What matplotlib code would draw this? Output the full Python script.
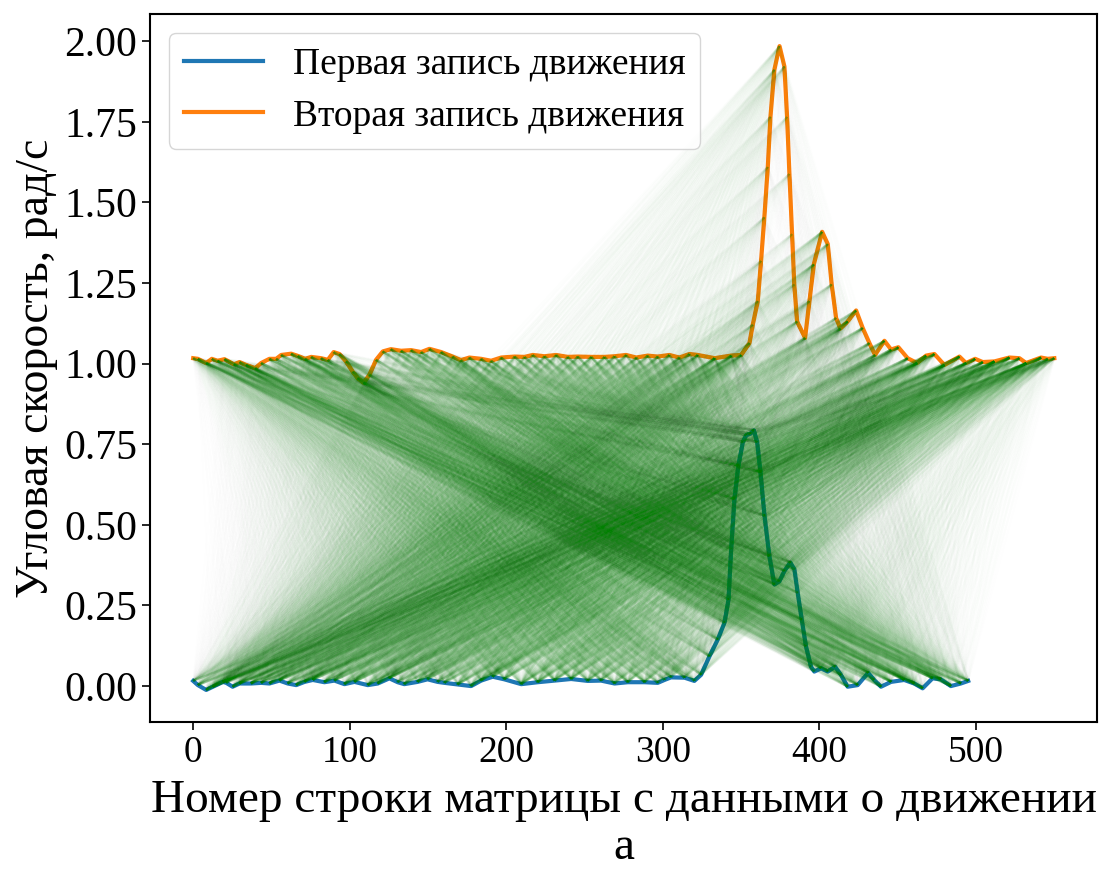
import numpy as np
import matplotlib
matplotlib.use("Agg")
import matplotlib.pyplot as plt
from matplotlib.collections import LineCollection

# ---- data ----
# First motion record (blue)
x1 = [0, 3, 8.3, 12.6, 19, 21.1, 25.2, 29.6, 37, 43.4, 48.7, 55.1, 60.4, 65.8, 71.1,
      76.4, 83.8, 90.2, 96.6, 103, 111.5, 117.9, 125.3, 130.6, 134.8, 143.3, 149.7,
      156.1, 160.5, 169, 177.5, 183.9, 191.3, 198.7, 209.5, 220.1, 230.8, 241.4, 252,
      260.5, 269.1, 277.6, 288.3, 296.7, 301, 305.2, 313.8, 320.1, 324.4, 329.7, 335,
      339.3, 341.9, 343.6, 345.7, 348.2, 351.1, 353.2, 355.9, 358.1, 360.2, 362.3,
      364.9, 368, 371.2, 374.4, 377.6, 381.4, 384, 386.1, 388.7, 391.4, 394.6, 396.7,
      401, 405.3, 410, 413.8, 418, 424.4, 431.1, 434.9, 439.3, 445.7, 454.1, 460.5,
      465.9, 472.2, 477.5, 483.9, 490.3, 495]
y1 = [0.016, 0.003, -0.012, -0.002, 0.013, 0.010, -0.002, 0.008, 0.008, 0.010, 0.008,
      0.017, 0.008, 0.003, 0.013, 0.019, 0.012, 0.017, 0.006, 0.013, 0.003, 0.008,
      0.024, 0.012, 0.006, 0.013, 0.021, 0.013, 0.010, 0.005, 0.000, 0.017, 0.029,
      0.021, 0.006, 0.012, 0.017, 0.022, 0.016, 0.017, 0.008, 0.012, 0.012, 0.010,
      0.019, 0.027, 0.026, 0.016, 0.035, 0.092, 0.144, 0.196, 0.268, 0.424, 0.580,
      0.684, 0.757, 0.778, 0.783, 0.793, 0.757, 0.664, 0.528, 0.403, 0.315, 0.325,
      0.357, 0.383, 0.362, 0.289, 0.206, 0.123, 0.060, 0.045, 0.055, 0.045, 0.060,
      0.034, -0.002, 0.003, 0.041, 0.019, -0.002, 0.013, 0.019, 0.008, -0.007, 0.024,
      0.021, 0.000, 0.008, 0.016]

# Second motion record (orange), raw values; plotted with a +1.0 offset
x2 = [0, 3, 8.3, 11.9, 15.6, 20, 26, 29.6, 33.8, 39.6, 43.4, 48.7, 53, 56.2, 62.6, 66.9,
      71.5, 75.4, 81.7, 86, 89.7, 93.4, 97.6, 101.9, 105.1, 108.9, 112.5, 116.8, 121.1,
      126.3, 132.8, 139.2, 145.6, 150.9, 158.4, 165.7, 171, 176.4, 183.9, 190.3, 196.7,
      205.2, 211.6, 216.9, 224.3, 231.8, 239.3, 245.6, 254.2, 262.7, 269.1, 276.5, 283,
      290.3, 296.7, 304.1, 310.5, 317, 322.2, 333, 343.6, 350, 355.3, 357.4, 360.6,
      362.7, 364.8, 367, 368.7, 371.2, 374.5, 377.6, 379.3, 380.8, 382.5, 383.9, 385.7,
      390.8, 393.6, 396.4, 401.7, 405.3, 407.8, 410.6, 413.4, 418, 423.4, 427.6, 431.9,
      435.5, 441.5, 445.7, 450.4, 456.3, 462.3, 468.1, 473.4, 479.8, 489.4, 493.6,
      499.4, 504.3, 511.7, 521.3, 527.7, 532, 541.5, 545.8, 550]
y2 = [0.017, 0.015, 0.002, 0.015, 0.009, 0.014, -0.002, 0.005, -0.004, -0.014, 0.002,
      0.015, 0.015, 0.027, 0.031, 0.024, 0.015, 0.021, 0.017, 0.012, 0.036, 0.030,
      0.007, -0.025, -0.045, -0.059, -0.035, 0.012, 0.038, 0.045, 0.040, 0.042, 0.036,
      0.046, 0.036, 0.022, 0.011, 0.019, 0.015, 0.009, 0.019, 0.022, 0.021, 0.027,
      0.023, 0.027, 0.021, 0.022, 0.021, 0.021, 0.023, 0.027, 0.019, 0.025, 0.022,
      0.027, 0.019, 0.030, 0.027, 0.017, 0.025, 0.027, 0.064, 0.121, 0.194, 0.319,
      0.454, 0.610, 0.766, 0.912, 0.985, 0.922, 0.766, 0.589, 0.402, 0.246, 0.131,
      0.080, 0.194, 0.308, 0.409, 0.371, 0.246, 0.142, 0.109, 0.131, 0.165, 0.111,
      0.064, 0.027, 0.071, 0.044, 0.051, 0.017, 0.002, 0.025, 0.030, -0.004, 0.022,
      0.002, 0.015, 0.005, 0.007, 0.019, 0.017, 0.002, 0.019, 0.015, 0.017]
offset = 1.0

labels = ["Первая запись движения", "Вторая запись движения"]
xlabel = "Номер строки матрицы с данными о движении\nа"
ylabel = "Угловая скорость, рад/с"

# ---- plotting ----
plt.rcParams['font.family'] = ['Liberation Serif', 'DejaVu Serif']
fig = plt.figure(figsize=(11.04, 8.69), dpi=100)
ax = fig.add_axes([0.136, 0.169, 0.858, 0.815])

X1 = np.asarray(x1); Y1 = np.asarray(y1)
X2 = np.asarray(x2); Y2 = np.asarray(y2) + offset

ax.plot(X1, Y1, color='#1f77b4', lw=3, label=labels[0], zorder=2)
ax.plot(X2, Y2, color='#ff7f0e', lw=3, label=labels[1], zorder=2)

# weights for each sample = local spacing (to mimic uniformly sampled records)
def spacing(x):
    x = np.asarray(x, float)
    d = np.gradient(x)
    return d / d.mean()

w1 = spacing(x1); w2 = spacing(x2)
I, J = np.meshgrid(np.arange(len(X1)), np.arange(len(X2)), indexing='ij')
I = I.ravel(); J = J.ravel()
segs = np.stack([np.stack([X1[I], Y1[I]], axis=1),
                 np.stack([X2[J], Y2[J]], axis=1)], axis=1)
dist = np.abs(X1[I] - X2[J]) ** 0.6
dist = dist / dist.mean()
alpha = np.clip(0.014 * w1[I] * w2[J] * dist, 0, 1)
cols = np.zeros((len(I), 4)); cols[:, 1] = 0.5; cols[:, 3] = alpha
lc = LineCollection(segs, colors=cols, linewidths=1.6, zorder=3)
ax.add_collection(lc)

ax.autoscale_view()
ax.tick_params(labelsize=30, length=6, width=1.2)
ax.tick_params(axis='x', labelsize=27)
ax.yaxis.set_major_formatter(matplotlib.ticker.FormatStrFormatter('%.2f'))
ax.set_yticks(np.arange(0, 2.01, 0.25))
ax.set_xlabel(xlabel, fontsize=34, linespacing=1.15, labelpad=7)
ax.set_ylabel(ylabel, fontsize=33)
for s in ax.spines.values():
    s.set_linewidth(1.5)
leg = ax.legend(loc='upper left', fontsize=27, handlelength=2.1,
                handletextpad=0.8, labelspacing=0.45)
fig.savefig("out.png", dpi=100)
